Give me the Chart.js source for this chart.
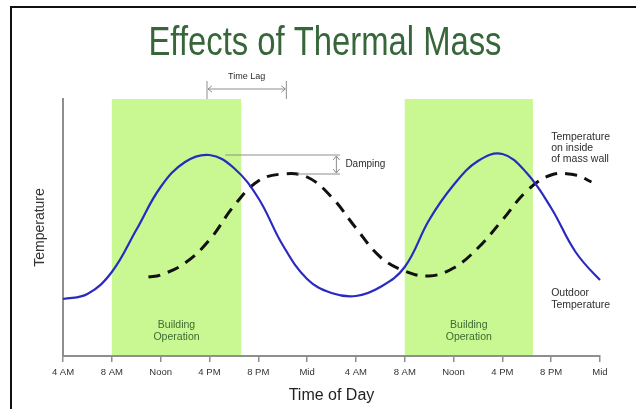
<!DOCTYPE html>
<html>
<head>
<meta charset="utf-8">
<title>Effects of Thermal Mass</title>
<script src="https://cdn.jsdelivr.net/npm/chart.js@4.4.1/dist/chart.umd.min.js"></script>
<style>
    html, body { margin: 0; padding: 0; background: #fff; }
    #wrap { position: relative; width: 636px; height: 409px; overflow: hidden; }
    #frame { position: absolute; left: 10px; top: 6px; width: 700px; height: 500px;
             border-left: 2px solid #111; border-top: 2px solid #111; }
    #massChart { position: absolute; left: 0; top: 0; }
</style>
</head>
<body>
<div id="wrap">
    <div id="frame"></div>
    <canvas id="massChart" width="636" height="409"></canvas>
</div>
<script>
// Hours counted from 4 AM on the first day
const tickHours = [0, 4, 8, 12, 16, 20, 24, 28, 32, 36, 40, 44];
const tickLabels = ['4 AM', '8 AM', 'Noon', '4 PM', '8 PM', 'Mid', '4 AM', '8 AM', 'Noon', '4 PM', '8 PM', 'Mid'];

// Outdoor temperature (solid blue)
const outdoorHours = [0, 2, 4, 6, 8, 10, 12, 14, 16, 18, 20, 22, 24, 26, 28, 30, 32, 34, 36, 38, 40, 42, 44, 44.6];
const outdoorTemp  = [5.7, 6.2, 8.4, 12.6, 16.9, 19.4, 20.1, 18.8, 15.8, 11.1, 7.7, 6.3, 6.0, 6.9, 8.9, 13.6, 17.1, 19.5, 20.2, 18.3, 14.8, 10.4, 7.6, 7.1];

// Temperature on inside of mass wall (dashed)
const insideHours = [7, 8, 10, 12, 14, 16, 18, 20, 22, 24, 26, 28, 30, 32, 34, 36, 38, 40, 42, 43.3];
const insideTemp  = [7.9, 8.1, 9.3, 11.6, 15.0, 17.5, 18.2, 17.9, 15.9, 12.8, 9.9, 8.5, 8.0, 8.8, 10.8, 13.6, 16.5, 18.1, 18.1, 17.4];

// Building operation periods (hours)
const opStart = [4, 28];
const opEnd = [14.6, 38.5];

// Time lag between peaks, damping levels
const lagHours = [11.8, 18.3];
const dampLevels = [20.1, 18.2];

const FONT = "'Liberation Sans', Arial, sans-serif";

function line(ctx, x1, y1, x2, y2) {
    ctx.beginPath();
    ctx.moveTo(x1, y1);
    ctx.lineTo(x2, y2);
    ctx.stroke();
}

function arrowHead(ctx, x, y, dx, dy) {
    // small open chevron pointing along (dx, dy)
    const s = 4;
    ctx.beginPath();
    ctx.moveTo(x - dx * s + dy * s * 0.8, y - dy * s + dx * s * 0.8);
    ctx.lineTo(x, y);
    ctx.lineTo(x - dx * s - dy * s * 0.8, y - dy * s - dx * s * 0.8);
    ctx.stroke();
}

// Green "Building Operation" bands, drawn before the axes
const operationBands = {
    id: 'operationBands',
    beforeDraw(chart) {
        const {ctx, chartArea, scales: {x, y}} = chart;
        ctx.save();
        ctx.fillStyle = '#c9f791';
        opStart.forEach((start, i) => {
            const x1 = x.getPixelForValue(start);
            const x2 = x.getPixelForValue(opEnd[i]);
            ctx.fillRect(x1, chartArea.top, x2 - x1, chartArea.bottom - chartArea.top);
        });
        ctx.fillStyle = '#3d6b32';
        ctx.font = '10.5px ' + FONT;
        ctx.textAlign = 'center';
        ctx.textBaseline = 'middle';
        opStart.forEach((start, i) => {
            const cx = (x.getPixelForValue(start) + x.getPixelForValue(opEnd[i])) / 2;
            ctx.fillText('Building', cx, y.getPixelForValue(3.1));
            ctx.fillText('Operation', cx, y.getPixelForValue(1.9));
        });
        ctx.restore();
    }
};

// Narrow title, time lag, damping and curve labels
const annotations = {
    id: 'annotations',
    afterDraw(chart) {
        const {ctx, chartArea, scales: {x, y}} = chart;
        ctx.save();

        // Title (condensed horizontally, no narrow font installed)
        ctx.save();
        ctx.translate(325, 44);
        ctx.scale(0.82, 1);
        ctx.fillStyle = '#36663a';
        ctx.font = '40px ' + FONT;
        ctx.textAlign = 'center';
        ctx.textBaseline = 'middle';
        ctx.fillText('Effects of Thermal Mass', 0, 0);
        ctx.restore();

        ctx.strokeStyle = '#8e8e8e';
        ctx.lineWidth = 1;

        // Time lag
        const l1 = x.getPixelForValue(lagHours[0]);
        const l2 = x.getPixelForValue(lagHours[1]);
        const top = chartArea.top;
        line(ctx, l1, top - 18, l1, top);
        line(ctx, l2, top - 18, l2, top);
        const ay = top - 10;
        line(ctx, l1 + 1, ay, l2 - 1, ay);
        arrowHead(ctx, l1 + 1, ay, -1, 0);
        arrowHead(ctx, l2 - 1, ay, 1, 0);

        // Damping
        const d1 = y.getPixelForValue(dampLevels[0]);
        const d2 = y.getPixelForValue(dampLevels[1]);
        line(ctx, x.getPixelForValue(13.3), d1, x.getPixelForValue(22.7), d1);
        line(ctx, x.getPixelForValue(19.2), d2, x.getPixelForValue(22.7), d2);
        const ax = x.getPixelForValue(22.4);
        line(ctx, ax, d1 + 1, ax, d2 - 1);
        arrowHead(ctx, ax, d1 + 1, 0, -1);
        arrowHead(ctx, ax, d2 - 1, 0, 1);

        // Texts
        ctx.fillStyle = '#2e2e2e';
        ctx.textBaseline = 'middle';
        ctx.textAlign = 'center';
        ctx.font = '9px ' + FONT;
        ctx.fillText('Time Lag', (l1 + l2) / 2, top - 22);

        ctx.textAlign = 'left';
        ctx.font = '10px ' + FONT;
        ctx.fillText('Damping', ax + 9, (d1 + d2) / 2);

        ctx.font = '10.5px ' + FONT;
        const lx = x.getPixelForValue(40);
        ['Temperature', 'on inside', 'of mass wall'].forEach((t, i) => {
            ctx.fillText(t, lx, y.getPixelForValue(21.9 - i * 1.1));
        });
        ['Outdoor', 'Temperature'].forEach((t, i) => {
            ctx.fillText(t, lx, y.getPixelForValue(6.3 - i * 1.2));
        });
        ctx.restore();
    }
};

function initMassChart() {
    const ctx = document.getElementById('massChart');
    if (!ctx) return;

    new Chart(ctx, {
        type: 'line',
        data: {
            datasets: [
                {
                    label: 'Outdoor Temperature',
                    data: outdoorHours.map((h, i) => ({x: h, y: outdoorTemp[i]})),
                    borderColor: '#2a2ac2',
                    borderWidth: 2.2,
                    pointRadius: 0,
                    tension: 0.4,
                    clip: false
                },
                {
                    label: 'Temperature on inside of mass wall',
                    data: insideHours.map((h, i) => ({x: h, y: insideTemp[i]})),
                    borderColor: '#111',
                    borderWidth: 3,
                    borderDash: [12, 8],
                    pointRadius: 0,
                    tension: 0.4
                }
            ]
        },
        options: {
            responsive: false,
            animation: false,
            layout: {
                padding: {left: 0, right: 36, top: 99, bottom: 0}
            },
            plugins: {
                legend: {display: false},
                tooltip: {enabled: false}
            },
            scales: {
                x: {
                    type: 'linear',
                    min: 0,
                    max: 44,
                    afterBuildTicks(scale) {
                        scale.ticks = tickHours.map(v => ({value: v}));
                    },
                    ticks: {
                        callback: (value, index) => tickLabels[index],
                        color: '#333',
                        font: {family: FONT, size: 9.5},
                        padding: 5,
                        maxRotation: 0,
                        autoSkip: false
                    },
                    grid: {
                        drawOnChartArea: false,
                        color: '#8e8e8e',
                        tickLength: 6,
                        lineWidth: 1.5
                    },
                    border: {color: '#8e8e8e', width: 2},
                    title: {
                        display: true,
                        text: 'Time of Day',
                        color: '#222',
                        font: {family: FONT, size: 16},
                        padding: {top: 0, bottom: 4}
                    },
                    afterFit(scale) {
                        scale.height = 53;
                    }
                },
                y: {
                    min: 0,
                    max: 25.7,
                    ticks: {display: false},
                    grid: {display: false},
                    border: {color: '#8e8e8e', width: 2},
                    title: {
                        display: true,
                        text: 'Temperature',
                        color: '#333',
                        font: {family: FONT, size: 14},
                        padding: {top: 32, bottom: 0}
                    },
                    afterFit(scale) {
                        scale.width = 63;
                    }
                }
            }
        },
        plugins: [operationBands, annotations]
    });
}

document.addEventListener('DOMContentLoaded', initMassChart);
</script>
</body>
</html>
